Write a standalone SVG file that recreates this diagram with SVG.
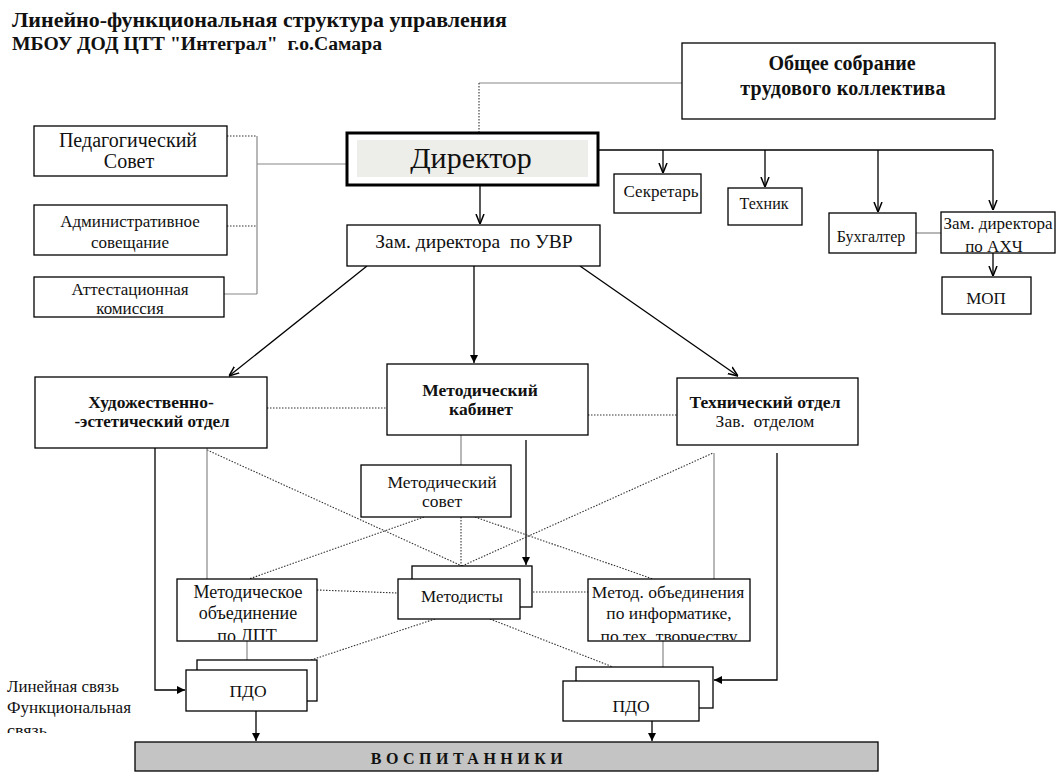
<svg xmlns="http://www.w3.org/2000/svg" width="1060" height="780" viewBox="0 0 1060 780">
<style>
text{font-family:"Liberation Serif","Times New Roman",serif;fill:#111}
.b{font-weight:bold}
.c{text-anchor:middle}
.box{fill:#fff;stroke:#000;stroke-width:1.3}
.ln{fill:none;stroke:#000;stroke-width:1.3}
.gr{fill:none;stroke:#888;stroke-width:1.2}
.dt{fill:none;stroke:#333;stroke-width:1.1;stroke-dasharray:1.5 1.5}
</style>
<defs>
<marker id="ar" viewBox="0 0 10 10" refX="10" refY="5" markerWidth="8" markerHeight="8" markerUnits="userSpaceOnUse" orient="auto">
<path d="M0,0 L10,5 L0,10 z" fill="#000"/>
</marker>
<marker id="av" viewBox="0 0 10 10" refX="10" refY="5" markerWidth="10" markerHeight="10" markerUnits="userSpaceOnUse" orient="auto">
<path d="M0,1 L10,5 L0,9" fill="none" stroke="#000" stroke-width="1.5"/>
</marker>
<clipPath id="cMet"><rect x="398" y="579" width="122" height="25"/></clipPath>
<clipPath id="cDpt"><rect x="177" y="579" width="140" height="61"/></clipPath>
<clipPath id="cInf"><rect x="588" y="579" width="162" height="61"/></clipPath>
<clipPath id="cLeg"><rect x="0" y="670" width="140" height="63"/></clipPath>
</defs>

<g id="title">
<text x="12" y="27" class="b" font-size="22" textLength="495" lengthAdjust="spacingAndGlyphs">Линейно-функциональная структура управления</text>
<text x="12" y="50" class="b" font-size="18" textLength="370" lengthAdjust="spacingAndGlyphs" xml:space="preserve">МБОУ ДОД ЦТТ "Интеграл"  г.о.Самара</text>
</g>

<g id="connectors">
<polyline class="gr" points="682,83 479,83"/>
<line class="dt" x1="479" y1="83" x2="479" y2="133"/>
<line class="dt" x1="227" y1="136" x2="257" y2="136"/>
<line class="dt" x1="227" y1="226" x2="257" y2="226"/>
<line class="gr" x1="224" y1="294" x2="257" y2="294"/>
<line class="gr" x1="257" y1="136" x2="257" y2="294"/>
<line class="gr" x1="257" y1="164" x2="347" y2="164"/>
<line class="ln" x1="598" y1="150" x2="993" y2="150"/>
<line class="ln" x1="663" y1="150" x2="663" y2="173" marker-end="url(#av)"/>
<line class="ln" x1="765" y1="150" x2="765" y2="187" marker-end="url(#av)"/>
<line class="ln" x1="878" y1="150" x2="878" y2="212" marker-end="url(#av)"/>
<line class="ln" x1="993" y1="150" x2="993" y2="210" marker-end="url(#av)"/>
<line class="gr" x1="916" y1="233" x2="941" y2="233"/>
<line class="ln" x1="993" y1="242" x2="993" y2="276" marker-end="url(#av)"/>
<line class="ln" x1="480" y1="185" x2="480" y2="224" marker-end="url(#av)"/>
<line class="ln" x1="367" y1="266" x2="229" y2="376" marker-end="url(#av)"/>
<line class="ln" x1="474" y1="266" x2="474" y2="363" marker-end="url(#ar)"/>
<line class="ln" x1="580" y1="266" x2="738" y2="376" marker-end="url(#av)"/>
<line class="dt" x1="267" y1="408" x2="387" y2="408"/>
<line class="dt" x1="588" y1="415" x2="677" y2="415"/>
<line class="gr" x1="461" y1="435" x2="461" y2="465"/>
<line class="ln" x1="526" y1="440" x2="526" y2="565" marker-end="url(#ar)"/>
<line class="dt" x1="207" y1="450" x2="462" y2="566"/>
<line class="dt" x1="424" y1="517" x2="249" y2="579"/>
<line class="dt" x1="461" y1="517" x2="461" y2="566"/>
<line class="dt" x1="475" y1="517" x2="653" y2="579"/>
<line class="dt" x1="462" y1="566" x2="713" y2="453"/>
<line class="dt" x1="435" y1="619" x2="308" y2="661"/>
<line class="dt" x1="490" y1="619" x2="613" y2="667"/>
<line class="dt" x1="317" y1="590" x2="398" y2="593"/>
<line class="dt" x1="533" y1="592" x2="588" y2="592"/>
<line class="gr" x1="207" y1="448" x2="207" y2="579"/>
<line class="gr" x1="714" y1="453" x2="714" y2="579"/>
<line class="gr" x1="247" y1="641" x2="247" y2="660"/>
<line class="gr" x1="663" y1="641" x2="663" y2="667"/>
<polyline class="ln" points="155,448 155,690 185,690" marker-end="url(#ar)"/>
<polyline class="ln" points="777,453 777,680 714,680" marker-end="url(#ar)"/>
<line class="ln" x1="256" y1="711" x2="256" y2="741" marker-end="url(#ar)"/>
<line class="ln" x1="652" y1="721" x2="652" y2="741" marker-end="url(#ar)"/>
</g>

<g id="obshee">
<rect class="box" x="682" y="43" width="313" height="76"/>
<text x="842" y="70" class="b c" font-size="20">Общее собрание</text>
<text x="843" y="95" class="b c" font-size="20" letter-spacing="0.3">трудового коллектива</text>
</g>

<g id="director">
<rect x="347" y="133" width="251" height="52" fill="#fff" stroke="#000" stroke-width="3"/>
<rect x="357" y="140" width="231" height="37" fill="#ededea"/>
<text x="471" y="168" class="c" font-size="30">Директор</text>
</g>

<g id="pedsovet">
<rect class="box" x="34" y="126" width="193" height="50"/>
<text x="128" y="147" class="c" font-size="20">Педагогический</text>
<text x="129" y="168" class="c" font-size="20">Совет</text>
</g>
<g id="admsov">
<rect class="box" x="34" y="205" width="193" height="50"/>
<text x="130" y="227" class="c" font-size="17">Административное</text>
<text x="130" y="248" class="c" font-size="17">совещание</text>
</g>
<g id="attest">
<rect class="box" x="34" y="277" width="190" height="40"/>
<text x="130" y="295" class="c" font-size="17">Аттестационная</text>
<text x="130" y="314" class="c" font-size="17">комиссия</text>
</g>

<g id="secretar">
<rect class="box" x="614" y="174" width="87" height="39"/>
<text x="661" y="197" class="c" font-size="17">Секретарь</text>
</g>
<g id="tehnik">
<rect class="box" x="728" y="188" width="74" height="37"/>
<text x="764" y="209" class="c" font-size="16">Техник</text>
</g>
<g id="buh">
<rect class="box" x="829" y="213" width="87" height="40"/>
<text x="871" y="242" class="c" font-size="16">Бухгалтер</text>
</g>
<g id="zamahch">
<rect class="box" x="941" y="212" width="114" height="41"/>
<text x="998" y="229" class="c" font-size="17">Зам. директора</text>
<text x="994" y="252" class="c" font-size="17">по АХЧ</text>
</g>
<g id="mop">
<rect class="box" x="942" y="277" width="89" height="37"/>
<text x="986" y="304" class="c" font-size="17">МОП</text>
</g>

<g id="zamuvr">
<rect class="box" x="347" y="225" width="253" height="41"/>
<text x="474" y="248" class="c" font-size="19.5" xml:space="preserve">Зам. директора  по УВР</text>
</g>

<g id="hud">
<rect class="box" x="35" y="377" width="232" height="71"/>
<text x="151" y="408" class="b c" font-size="17.5">Художественно-</text>
<text x="152" y="427" class="b c" font-size="17">-эстетический отдел</text>
</g>
<g id="metkab">
<rect class="box" x="387" y="364" width="201" height="71"/>
<text x="480" y="396" class="b c" font-size="17.5">Методический</text>
<text x="481" y="415" class="b c" font-size="17.5">кабинет</text>
</g>
<g id="teh">
<rect class="box" x="677" y="378" width="181" height="67"/>
<text x="765" y="408" class="b c" font-size="17.5">Технический отдел</text>
<text x="765" y="427" class="c" font-size="17.5" xml:space="preserve">Зав.  отделом</text>
</g>

<g id="metsovet">
<rect class="box" x="361" y="465" width="150" height="52"/>
<text x="442" y="488" class="c" font-size="17.5">Методический</text>
<text x="442" y="507" class="c" font-size="17.5">совет</text>
</g>

<g id="metodisty">
<rect class="box" x="412" y="566" width="120" height="41"/>
<rect class="box" x="398" y="579" width="122" height="40"/>
<text x="462" y="602" class="c" font-size="17" clip-path="url(#cMet)">Методисты</text>
</g>

<g id="metobdpt">
<rect class="box" x="177" y="579" width="140" height="62"/>
<text x="248" y="598" class="c" font-size="18">Методическое</text>
<text x="248" y="619" class="c" font-size="18">объединение</text>
<text x="247" y="642" class="c" font-size="18" clip-path="url(#cDpt)">по ДПТ</text>
</g>

<g id="metobinf">
<rect class="box" x="588" y="579" width="162" height="62"/>
<text x="668" y="598" class="c" font-size="17.5">Метод. объединения</text>
<text x="669" y="619" class="c" font-size="17.5">по информатике,</text>
<text x="669" y="642" class="c" font-size="17.5" clip-path="url(#cInf)" xml:space="preserve">по тех. творчеству</text>
</g>

<g id="pdo1">
<rect class="box" x="197" y="660" width="120" height="41"/>
<rect class="box" x="186" y="670" width="121" height="41"/>
<text x="248" y="697" class="c" font-size="17.5">ПДО</text>
</g>
<g id="pdo2">
<rect class="box" x="576" y="667" width="137" height="41"/>
<rect class="box" x="563" y="681" width="136" height="40"/>
<text x="631" y="712" class="c" font-size="17.5">ПДО</text>
</g>

<g id="vospit">
<rect x="135" y="742" width="743" height="29" fill="#c4c4c4" stroke="#000" stroke-width="1.3"/>
<text x="469" y="764" class="b c" font-size="16" letter-spacing="4.5">ВОСПИТАННИКИ</text>
</g>

<g id="legend" clip-path="url(#cLeg)">
<text x="7" y="692" font-size="16" textLength="112" lengthAdjust="spacingAndGlyphs">Линейная связь</text>
<text x="7" y="713" font-size="16" textLength="124" lengthAdjust="spacingAndGlyphs">Функциональная</text>
<text x="7" y="736" font-size="16" textLength="40" lengthAdjust="spacingAndGlyphs">связь</text>
</g>
</svg>
